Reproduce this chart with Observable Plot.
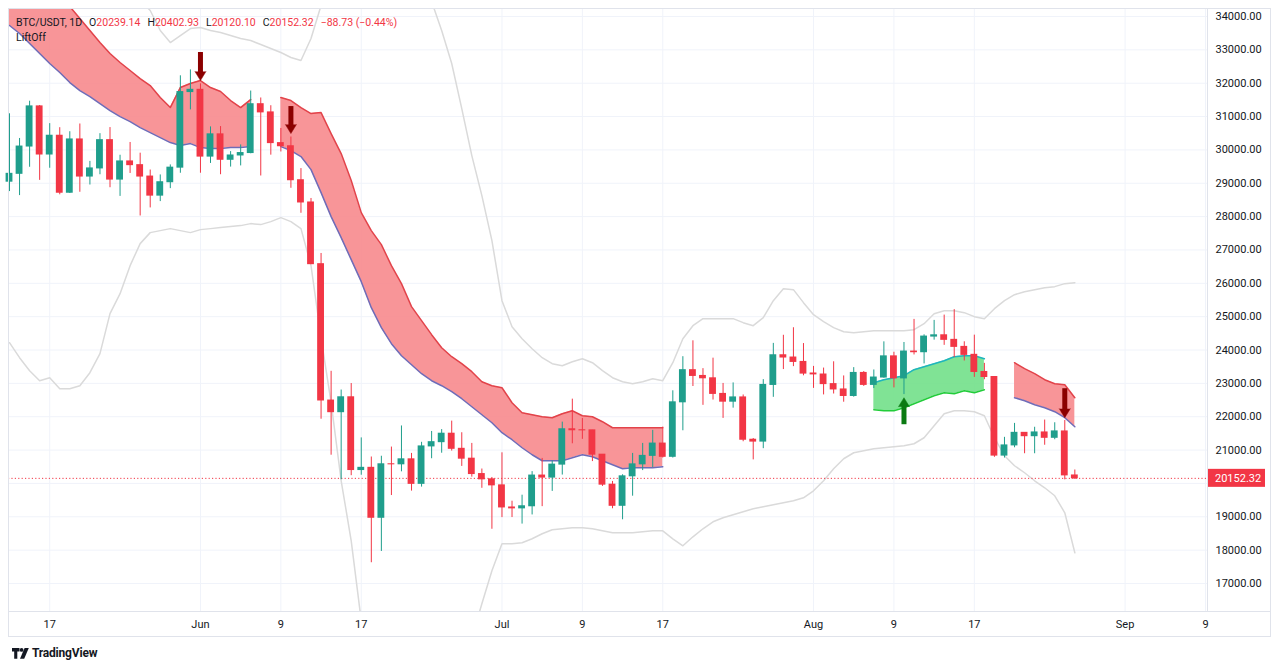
<!DOCTYPE html>
<html>
<head>
<meta charset="utf-8">
<script src="https://cdn.jsdelivr.net/npm/d3@7"></script>
<script src="https://cdn.jsdelivr.net/npm/@observablehq/plot@0.6"></script>
<style>
html,body{margin:0;padding:0;background:#fff;}
#wrap{position:relative;width:1280px;height:669px;overflow:hidden;font-family:Roboto,"Noto Sans",sans-serif;}
#chart{position:absolute;left:0;top:0;}
#legend{position:absolute;left:16px;top:15px;font-size:10.5px;line-height:15px;color:#131722;white-space:nowrap;}
#legend .v{color:#f23645;}
#legend .g{margin-left:7px;}
#logo{position:absolute;left:12px;top:646px;display:flex;align-items:center;gap:3px;font-size:12px;font-weight:700;color:#131722;letter-spacing:-0.2px;}
</style>
</head>
<body>
<div id="wrap">
  <div id="chart"></div>
  <div id="legend"></div>
  <div id="logo"><svg width="17" height="11" viewBox="0 0 17 11"><path d="M0 0h7.5v3.6h-2.2v7.2h-3.1v-7.2h-2.2z" fill="#131722"/><circle cx="9.6" cy="1.9" r="1.9" fill="#131722"/><path d="M12.6 0h4.2l-4.6 10.8h-4.2z" fill="#131722"/></svg><span>TradingView</span></div>
</div>
<script>
// ---------- DATA (BTC/USDT daily, 13 May 2022 – 27 Aug 2022) ----------
const firstDay = "2022-05-13";
const open = [
  29047,29283,30101,31305,29862,30425,28716,30314,29201,29445,30293,29110,29655,29543,29201,28629,29031,29468,31734,
  31802,29799,30467,29704,29833,29906,31371,31125,30204,30110,29091,28424,26574,22485,22136,22583,20401,20468,18970,20574,20573,20723,19987,21110,21237,21491,21038,20742,20281,20123,
  19942,19279,19252,19315,20236,20175,20564,21624,21594,21592,20862,19963,19329,20213,20572,20826,21195,20798,22432,23396,23223,23152,22684,22451,22579,21310,21254,22953,23843,23775,23643,
  23296,23266,22978,22818,22622,23313,22954,23175,23810,23149,23954,23934,24403,24442,24305,24094,23856,23342,23191,20834,21140,21517,21416,21529,21368,21559,20239.14
];
const high = [
  31083,30343,31460,31332,30788,30666,30545,30777,29656,30487,30670,29840,30223,29902,29397,29250,29550,32222,32399,
  31982,30690,30700,29950,30150,31765,31557,31325,30643,30387,29440,28544,26895,23362,22800,22995,21365,20792,20815,21090,21723,20900,21233,21558,21614,21868,21520,21200,20432,20179,
  20918,19467,19647,20354,20750,20675,21838,22527,21950,21592,20862,20060,20260,20900,21200,21591,21689,22777,23800,24276,23442,23756,22998,23014,22652,21347,23112,24199,24442,24668,24194,
  23509,23459,23647,23223,23472,23354,23402,24245,23933,24226,24918,24456,24888,25047,25211,24247,24446,23600,23203,21382,21800,21522,21684,21900,21819,21886,20402.93
];
const low = [
  28751,28630,29480,29087,29450,28654,28694,28730,28947,29255,28866,28606,29294,28019,28261,28450,28839,29300,31200,
  29301,29594,29256,29485,29520,29884,29218,29843,29938,28850,28100,26560,21925,20846,20111,20232,20246,17622,17960,19637,20348,19770,19890,20740,20906,20970,20510,20188,19854,18626,
  18975,18977,18781,19055,19304,19761,20251,21189,21322,20655,19910,19240,18910,19617,20385,20476,20761,20761,21579,22906,22341,22500,21950,22257,21250,20706,21042,22582,23414,23502,23227,
  22850,22654,22681,22435,22586,22909,22844,23154,22865,22664,23852,23583,24296,24140,23773,23671,23180,23110,20783,20761,21069,20890,20890,21145,21310,20107,20120.10
];
const close = [
  29283,30101,31305,29862,30425,28716,30314,29201,29445,30293,29110,29655,29543,29201,28629,29031,29468,31734,31802,
  29799,30467,29704,29833,29906,31370,31125,30204,30110,29091,28424,26574,22487,22136,22583,20401,20468,18970,20574,20573,20723,19987,21110,21237,21491,21038,20742,20281,20123,19942,
  19280,19252,19315,20236,20175,20564,21624,21594,21591,20862,19963,19329,20213,20572,20826,21195,20798,22432,23396,23223,23152,22684,22451,22579,21310,21254,22953,23843,23775,23643,23293,
  23269,22978,22818,22622,23313,22954,23175,23810,23149,23954,23934,24403,24441,24305,24094,23854,23342,23191,20834,21140,21517,21416,21529,21368,21560,20241,20152.32
];
const change = -88.73, changePct = -0.44;

// light grey envelope lines (upper / lower), one value per day
const greyUpper = [
  35500,35500,35500,35500,35500,35500,35500,35500,35500,35400,
  35200,35000,34800,34500,34180,33580,33220,33430,33640,33670,
  33580,33520,33430,33340,33280,33160,33040,32920,32770,32680,
  33340,34330,35500,36000,36300,36500,36600,36600,36500,36200,
  35700,35100,34450,33580,32590,31240,29830,28630,27280,25480,
  24700,24340,24040,23770,23590,23530,23650,23740,23620,23380,
  23170,23050,22990,23050,23140,23080,23620,24340,24730,24940,
  24940,24940,24940,24820,24730,24970,25480,25840,25810,25420,
  25060,24850,24670,24550,24520,24550,24580,24580,24580,24580,
  24610,24790,25090,25180,25180,25120,25000,24940,25240,25480,
  25660,25750,25810,25870,25900,25990,26020
];
const greyLower = [
  24220,23770,23380,23080,23170,22840,22840,22930,23320,23890,
  25090,25690,26530,27190,27520,27580,27640,27580,27520,27610,
  27640,27670,27700,27730,27790,27760,27850,27970,27850,27640,
  26530,24370,22420,20080,18280,15880,13480,11980,11080,10480,
  10180,10180,10480,11080,12280,13780,15370,16390,17380,18190,
  18190,18220,18340,18490,18610,18640,18670,18670,18640,18580,
  18520,18520,18520,18550,18580,18580,18340,18130,18400,18640,
  18850,18970,19060,19150,19240,19300,19360,19420,19480,19570,
  19780,20080,20440,20740,20920,20980,21040,21070,21100,21130,
  21190,21370,21730,22090,22180,22180,22150,22030,21370,20830,
  20530,20320,20080,19870,19630,19120,17920
];

// LiftOff bands
const red1Start = "2022-05-13";
const red1Upper = [36730,36340,35980,35590,35230,34660,34300,33940,33580,33220,32890,32620,32380,32140,31930,31570,31270,31870,31990,32080,31870,31750,31480,31270,31510];
const red1Lower = [33730,33490,33190,32890,32590,32320,32020,31780,31600,31390,31180,31000,30850,30670,30520,30370,30220,30130,30190,30070,30040,30040,30070,30070,30100];
const red2Start = "2022-06-09";
const red2Upper = [31570,31480,31270,31090,31120,30490,29890,29080,28120,27580,27160,26530,25990,25300,24880,24460,24070,23800,23590,23350,23050,22930,22870,22420,22120,22060,22000,21970,22090,22180,22030,22000,21850,21670,21670,21670,21670,21670,21670];
const red2Lower = [30100,29980,29800,29410,28720,28000,27370,26710,26050,25270,24670,24190,23830,23560,23290,23080,22930,22750,22540,22300,22060,21820,21520,21310,21070,20860,20680,20680,20680,20770,20860,20800,20680,20560,20440,20470,20470,20470,20500];
const greenStart = "2022-08-07";
const greenUpper = [23020,23110,23170,23230,23410,23500,23590,23680,23800,23830,23830,23740];
const greenLower = [22210,22180,22180,22270,22390,22510,22630,22720,22690,22780,22720,22810];
const red3Start = "2022-08-21";
const red3Upper = [23620,23440,23290,23110,22990,22960,22570];
const red3Lower = [22570,22480,22360,22270,22150,21970,21700];

// signal arrows
const sellDates = ["2022-06-01","2022-06-10","2022-08-26"];
const sellTip   = [32080,30490,21970];
const sellTail  = [32920,31300,22840];
const buyDates  = ["2022-08-10"];
const buyTip    = [22570];
const buyTail   = [21760];

// axes
const yTicks = d3.range(17000, 34001, 1000);
const xTickDays = ["2022-05-17","2022-06-01","2022-06-09","2022-06-17","2022-07-01","2022-07-09","2022-07-17","2022-08-01","2022-08-09","2022-08-17","2022-09-01","2022-09-09"];

// ---------- BUILD ----------
const DAY = 864e5;
const t0 = Date.parse(firstDay);
const candles = open.map((o, i) => ({date: new Date(t0 + i * DAY), open: o, high: high[i], low: low[i], close: close[i]}));
const up = candles.filter(d => d.close >= d.open);
const dn = candles.filter(d => d.close < d.open);
const grey = greyUpper.map((u, i) => ({date: new Date(t0 + i * DAY), upper: u, lower: greyLower[i]}));
const seg = (s, U, L) => U.map((u, i) => ({date: new Date(Date.parse(s) + i * DAY), upper: u, lower: L[i]}));
const red1 = seg(red1Start, red1Upper, red1Lower);
const red2 = seg(red2Start, red2Upper, red2Lower);
const green = seg(greenStart, greenUpper, greenLower);
const red3 = seg(red3Start, red3Upper, red3Lower);
const sells = sellDates.map((s, i) => ({date: new Date(Date.parse(s)), tip: sellTip[i], tail: sellTail[i]}));
const buys = buyDates.map((s, i) => ({date: new Date(Date.parse(s)), tip: buyTip[i], tail: buyTail[i]}));
const xTicks = xTickDays.map(s => new Date(Date.parse(s)));
const last = candles[candles.length - 1];
// the last-price tag hides the price label it sits on
const yLabelTicks = yTicks.filter(v => Math.abs(v - last.close) > 400);

const UP = "#1f9e8c", DOWN = "#f23645";
const RED_FILL = "#f7898d", RED_LINE = "#e2434a", PURPLE = "#6f6cb8";
const GREEN_FILL = "#72e08a", TEAL = "#1fb5be", GREEN_LINE = "#22cc3a";
const GREY = "#dadada", GRID = "#f0f3fa";
const half = 0.34 * DAY;

const bandMarks = (data, fill, upC, loC, op) => [
  Plot.areaY(data, {x: "date", y1: "lower", y2: "upper", fill, fillOpacity: op, clip: true}),
  Plot.line(data, {x: "date", y: "upper", stroke: upC, strokeWidth: 1.5, clip: true}),
  Plot.line(data, {x: "date", y: "lower", stroke: loC, strokeWidth: 1.5, clip: true})
];

const chart = Plot.plot({
  width: 1280, height: 640,
  marginLeft: 8, marginRight: 73, marginTop: 8, marginBottom: 29,
  style: {fontFamily: "Roboto, 'Noto Sans', sans-serif", fontSize: "11px", color: "#131722", background: "#fff", overflow: "visible"},
  x: {type: "utc", domain: [new Date(t0 - 0.1 * DAY), new Date(t0 + 119.2 * DAY)]},
  y: {domain: [16160, 34240]},
  marks: [
    Plot.ruleX(xTicks, {stroke: GRID, strokeWidth: 1}),
    Plot.ruleY(yTicks, {stroke: GRID, strokeWidth: 1}),
    Plot.line(grey, {x: "date", y: "upper", stroke: GREY, strokeWidth: 1.5, clip: true}),
    Plot.line(grey, {x: "date", y: "lower", stroke: GREY, strokeWidth: 1.5, clip: true}),
    ...bandMarks(red1, RED_FILL, RED_LINE, PURPLE, 0.9),
    ...bandMarks(red2, RED_FILL, RED_LINE, PURPLE, 0.9),
    ...bandMarks(red3, RED_FILL, RED_LINE, PURPLE, 0.9),
    ...bandMarks(green, GREEN_FILL, TEAL, GREEN_LINE, 0.9),
    Plot.ruleY([last.close], {stroke: DOWN, strokeWidth: 1, strokeDasharray: "1.2 2.2"}),
    Plot.ruleX(up, {x: "date", y1: "low", y2: "high", stroke: UP, strokeWidth: 1}),
    Plot.ruleX(dn, {x: "date", y1: "low", y2: "high", stroke: DOWN, strokeWidth: 1}),
    Plot.rect(up, {x1: d => new Date(+d.date - half), x2: d => new Date(+d.date + half), y1: "open", y2: "close", fill: UP, insetTop: -0.5, insetBottom: -0.5}),
    Plot.rect(dn, {x1: d => new Date(+d.date - half), x2: d => new Date(+d.date + half), y1: "open", y2: "close", fill: DOWN, insetTop: -0.5, insetBottom: -0.5}),
    Plot.ruleX(sells, {x: "date", y1: "tail", y2: d => d.tip + 220, stroke: "#8b0000", strokeWidth: 5}),
    Plot.vector(sells, {x: "date", y: "tip", length: 9, r: 5.5, shape: "spike", anchor: "end", rotate: 180, fill: "#8b0000", stroke: "#8b0000", strokeWidth: 0.5}),
    Plot.ruleX(buys, {x: "date", y1: "tail", y2: d => d.tip - 220, stroke: "#0b7a12", strokeWidth: 5}),
    Plot.vector(buys, {x: "date", y: "tip", length: 9, r: 5.5, shape: "spike", anchor: "end", rotate: 0, fill: "#0b7a12", stroke: "#0b7a12", strokeWidth: 0.5}),
    Plot.axisY({anchor: "right", ticks: yLabelTicks, tickSize: 0, tickPadding: 8, tickFormat: d => d.toFixed(2), label: null}),
    Plot.axisX({anchor: "bottom", ticks: xTicks, tickSize: 0, tickPadding: 9, label: null,
      tickFormat: d => d.getUTCDate() === 1 ? d3.utcFormat("%b")(d) : String(d.getUTCDate())}),
    Plot.frame({stroke: "#e0e3eb"})
  ]
});
document.getElementById("chart").appendChild(chart);

// outer pane border and last-price tag (positioned with the chart's y scale)
const svg = d3.select(chart);
svg.append("rect").attr("x", 8.5).attr("y", 8.5).attr("width", 1262).attr("height", 628)
  .attr("fill", "none").attr("stroke", "#e0e3eb");
svg.append("line").attr("x1", 1207).attr("x2", 1271).attr("y1", 611.5).attr("y2", 611.5).attr("stroke", "#e0e3eb");
const py = chart.scale("y").apply(last.close);
svg.append("rect").attr("x", 1208).attr("y", py - 9).attr("width", 57).attr("height", 18).attr("fill", DOWN);
svg.append("text").attr("x", 1215).attr("y", py).attr("dy", "0.35em").attr("fill", "#fff")
  .attr("text-anchor", "start").attr("font-size", 11).attr("font-family", "Roboto, sans-serif")
  .text(last.close.toFixed(2));

// legend
const fmt = v => v.toFixed(2);
const signed = v => (v < 0 ? "\u2212" : "+") + Math.abs(v).toFixed(2);
document.getElementById("legend").innerHTML =
  `<div>BTC/USDT, 1D<span class="g">O</span><span class="v">${fmt(last.open)}</span><span class="g">H</span><span class="v">${fmt(last.high)}</span><span class="g">L</span><span class="v">${fmt(last.low)}</span><span class="g">C</span><span class="v">${fmt(last.close)}</span><span class="v g">${signed(change)} (${signed(changePct)}%)</span></div><div>LiftOff</div>`;
</script>
</body>
</html>
